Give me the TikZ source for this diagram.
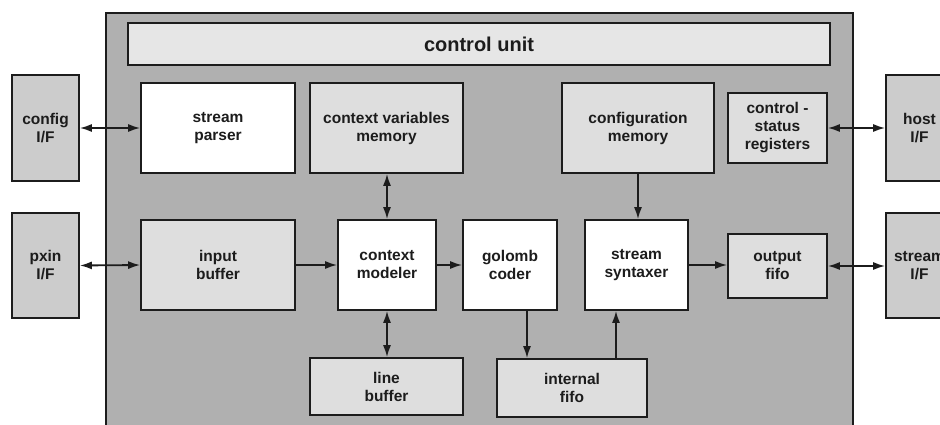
\documentclass[tikz,border=0pt]{standalone}
\usepackage{fontspec}
\setmainfont{Liberation Sans}
\usetikzlibrary{arrows.meta}
\definecolor{outerg}{RGB}{176,176,176}
\definecolor{ifg}{RGB}{204,204,204}
\definecolor{lightg}{RGB}{222,222,222}
\definecolor{barg}{RGB}{230,230,230}
\definecolor{ink}{RGB}{28,28,28}
\begin{document}
\begin{tikzpicture}[x=1pt,y=-1pt,
  blk/.style={draw=ink, line width=1.6pt, align=center, inner sep=0pt,
    text=ink, font=\fontsize{15.5}{18}\selectfont\bfseries},
  wbox/.style={blk, fill=white},
  gbox/.style={blk, fill=lightg},
  ifbox/.style={blk, fill=ifg, minimum width=67pt},
  conn/.style={draw=ink, line width=1.8pt},
  arr/.style={conn, -{Latex[length=12pt,width=8pt]}},
  darr/.style={conn, {Latex[length=12pt,width=8pt]}-{Latex[length=12pt,width=8pt]}}]
\useasboundingbox (0,0) rectangle (940,425);
\fill[white] (0,0) rectangle (940,425);

% enclosing core block
\draw[ink, line width=1.6pt, fill=outerg] (106,13) rectangle (853,440);

% control unit bar
\node[blk, fill=barg, minimum width=702pt, minimum height=42pt,
      font=\fontsize{20}{22}\selectfont\bfseries] (cu) at (479,44) {control unit};

% external interfaces
\node[ifbox, minimum height=106pt] (cfgif) at (45.5,128) {config\\I/F};
\node[ifbox, minimum height=105pt] (pxif) at (45.5,265.5) {pxin\\I/F};
\node[ifbox, minimum height=106pt] (hostif) at (919.5,128) {host\\I/F};
\node[ifbox, minimum height=105pt] (strif) at (919.5,265.5) {stream\\I/F};

% upper row
\node[wbox, minimum width=154pt, minimum height=90pt] (sp) at (218,128) {stream\\parser};
\node[gbox, minimum width=153pt, minimum height=90pt] (cvm) at (386.5,128) {context variables\\memory};
\node[gbox, minimum width=152pt, minimum height=90pt] (cfgm) at (638,128) {configuration\\memory};
\node[gbox, minimum width=99pt, minimum height=70pt] (csr) at (777.5,128) {control -\\status\\registers};

% data path row
\node[gbox, minimum width=154pt, minimum height=90pt] (ib) at (218,265) {input\\buffer};
\node[wbox, minimum width=98pt, minimum height=90pt] (cmod) at (387,265) {context\\modeler};
\node[wbox, minimum width=94pt, minimum height=90pt] (gc) at (510,265) {golomb\\coder};
\node[wbox, minimum width=103pt, minimum height=90pt] (ss) at (636.5,265) {stream\\syntaxer};
\node[gbox, minimum width=99pt, minimum height=64pt] (of) at (777.5,266) {output\\fifo};

% lower row
\node[gbox, minimum width=153pt, minimum height=57pt] (lb) at (386.5,386.5) {line\\buffer};
\node[gbox, minimum width=150pt, minimum height=58pt] (ififo) at (572,388) {internal\\fifo};

% bidirectional interface links
\draw[darr] (cfgif.east) -- (sp.west);
\draw[darr] (pxif.east) -- (ib.west);
\draw[darr] (csr.east) -- (hostif.west);
\draw[darr] (of.east) -- (of.east -| strif.west);

% internal links
\draw[darr] (cvm.south -| cmod.north) -- (cmod.north);
\draw[darr] (cmod.south) -- (cmod.south |- lb.north);
\draw[arr] (ib.east) -- (cmod.west);
\draw[arr] (cmod.east) -- (gc.west);
\draw[arr] (ss.east) -- (ss.east -| of.west);
\draw[arr] (cfgm.south) -- (cfgm.south |- ss.north);
\draw[arr] ([xshift=17pt]gc.south) -- ([xshift=17pt]gc.south |- ififo.north);
\draw[arr] ([xshift=-20.5pt]ss.south |- ififo.north) -- ([xshift=-20.5pt]ss.south);
\end{tikzpicture}
\end{document}
